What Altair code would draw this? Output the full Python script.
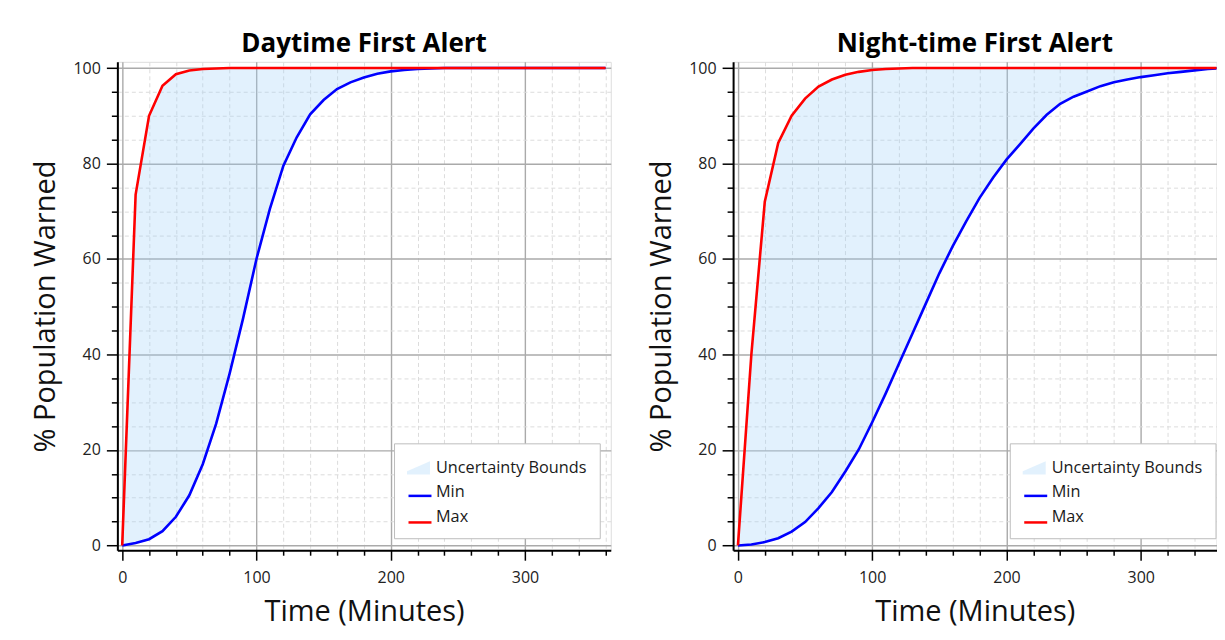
import altair as alt
import pandas as pd

# ---- data ----
t_values = list(range(0, 361, 10))

day_min = [0, 0.5, 1.3, 3.0, 6.0, 10.5, 17.0, 25.5, 36.0, 47.5, 60.0, 70.5,
           79.5, 85.5, 90.3, 93.3, 95.6, 97.0, 98.0, 98.8, 99.3, 99.6, 99.8,
           99.9, 100, 100, 100, 100, 100, 100, 100, 100, 100, 100, 100, 100, 100]
day_max = [0, 73.5, 90.0, 96.3, 98.7, 99.5, 99.8, 99.9, 100, 100, 100, 100,
           100, 100, 100, 100, 100, 100, 100, 100, 100, 100, 100, 100, 100,
           100, 100, 100, 100, 100, 100, 100, 100, 100, 100, 100, 100]

night_min = [0, 0.2, 0.7, 1.5, 2.9, 4.9, 7.8, 11.2, 15.5, 20.1, 25.8, 31.8,
             38.1, 44.4, 50.7, 57.0, 62.7, 67.9, 72.8, 77.0, 80.8, 84.0, 87.3,
             90.2, 92.5, 94.0, 95.1, 96.2, 97.0, 97.6, 98.1, 98.5, 98.9, 99.2,
             99.5, 99.8, 100]
night_max = [0, 40.0, 72.0, 84.3, 90.0, 93.6, 96.1, 97.6, 98.6, 99.2, 99.6,
             99.8, 99.9, 100, 100, 100, 100, 100, 100, 100, 100, 100, 100, 100,
             100, 100, 100, 100, 100, 100, 100, 100, 100, 100, 100, 100, 100]

y_ticks = list(range(0, 101, 5))
x_ticks = list(range(0, 361, 20))
series_names = ["Uncertainty Bounds", "Min", "Max"]
line_keys = ["band", "min", "max"]          # keys of the (label-less) line legend
fill_colors = ["#9fcff8", "transparent", "transparent"]
stroke_colors = ["transparent", "#0000ff", "#ff0000"]
panel_titles = ["Daytime First Alert", "Night-time First Alert"]
x_title = "Time (Minutes)"
y_title = "% Population Warned"

FONT = "Open Sans"
PH = 489
PX_PER_MIN = 1.3443
X_MIN = -3.6
AREA_OPACITY = 0.3


def cond(test, a, b):
    return {"condition": {"test": test, "value": a}, "value": b}


def x_axis(ticks):
    return alt.Axis(
        values=ticks,
        labelExpr="datum.value % 100 === 0 ? datum.label : ''",
        grid=True,
        gridDash=cond("datum.value % 100 === 0", [], [4, 3]),
        gridColor=cond("datum.value % 100 === 0", "#aaaaaa", "#dcdcdc"),
        gridWidth=cond("datum.value % 100 === 0", 1.4, 1),
        tickSize=cond("datum.value % 100 === 0", 10, 5),
        tickColor="black", tickWidth=1.5,
        domainColor="black", domainWidth=2,
        labelFont=FONT, labelFontSize=16, labelColor="#222", labelPadding=9,
        labelFlush=False,
        titleFont=FONT, titleFontSize=29, titleFontWeight="normal",
        titleColor="#111", titlePadding=12,
    )


y_axis = alt.Axis(
    values=y_ticks,
    labelExpr="datum.value % 20 === 0 ? datum.label : ''",
    grid=True,
    gridDash=cond("datum.value % 20 === 0", [], [4, 3]),
    gridColor=cond("datum.value % 20 === 0", "#aaaaaa", "#dcdcdc"),
    gridWidth=cond("datum.value % 20 === 0", 1.4, 1),
    tickSize=cond("datum.value % 20 === 0", 11, 6),
    tickColor="black", tickWidth=1.5,
    domainColor="black", domainWidth=2,
    labelFont=FONT, labelFontSize=16, labelColor="#222", labelPadding=6,
    labelFlush=False,
    titleFont=FONT, titleFontSize=29, titleFontWeight="normal",
    titleColor="#111", titlePadding=12,
)

legend_common = dict(
    orient="none", legendX=277, legendY=382, title=None, direction="vertical",
    symbolSize=529, labelFont=FONT, labelFontSize=16.3, labelOffset=6,
    padding=13, rowPadding=4.6,
)
# area legend: draws the box, the labels and the area swatch
legend_fill = alt.Legend(
    **legend_common,
    symbolType="M-1,0.58L-1,0.29L1,-0.58L1,0.58Z",
    symbolStrokeWidth=0, symbolOpacity=AREA_OPACITY,
    labelColor="#1a1a1a", strokeColor="#bdbdbd", fillColor="white", zindex=0,
)
# line legend: same layout, only the line swatches (no label text)
legend_stroke = alt.Legend(
    **legend_common,
    symbolType="stroke", symbolStrokeWidth=2.5, symbolOpacity=1,
    labelExpr="''", labelOpacity=0, zindex=1,
)
fill_scale = alt.Scale(domain=series_names, range=fill_colors)
stroke_scale = alt.Scale(domain=line_keys, range=stroke_colors)


def panel(title, mins, maxs, width):
    x_max = X_MIN + width / PX_PER_MIN
    ticks = [v for v in x_ticks if v <= x_max]
    df = pd.DataFrame({"t": t_values, "lo": mins, "hi": maxs})
    base = alt.Chart(df)
    x = alt.X("t:Q", scale=alt.Scale(domain=[X_MIN, x_max], nice=False, zero=False),
              axis=x_axis(ticks), title=x_title)
    ys = alt.Scale(domain=[-1, 101.3], nice=False, zero=False)
    area = base.mark_area(opacity=AREA_OPACITY, clip=True).transform_calculate(
        band="'%s'" % series_names[0]).encode(
        x=x,
        y=alt.Y("lo:Q", scale=ys, axis=y_axis, title=y_title),
        y2="hi:Q",
        fill=alt.Fill("band:N", scale=fill_scale, legend=legend_fill),
    )
    lmin = base.mark_line(strokeWidth=2.6, clip=True).transform_calculate(
        line="'%s'" % line_keys[1]).encode(
        x=x, y=alt.Y("lo:Q", scale=ys, axis=y_axis, title=y_title),
        stroke=alt.Stroke("line:N", scale=stroke_scale, legend=legend_stroke),
    )
    lmax = base.mark_line(strokeWidth=2.6, clip=True).transform_calculate(
        line="'%s'" % line_keys[2]).encode(
        x=x, y=alt.Y("hi:Q", scale=ys, axis=y_axis, title=y_title),
        stroke=alt.Stroke("line:N", scale=stroke_scale, legend=legend_stroke),
    )
    return alt.layer(area, lmin, lmax).properties(
        width=width, height=PH,
        title=alt.TitleParams(title, font=FONT, fontSize=26, fontWeight="bold",
                              color="black", anchor="middle", frame="group", offset=3),
    )


chart = alt.hconcat(
    panel(panel_titles[0], day_min, day_max, 494),
    panel(panel_titles[1], night_min, night_max, 484),
    spacing=35.5,
).resolve_scale(fill="independent", stroke="independent").properties(
    padding={"left": 23.5, "top": 21.5, "right": 0, "bottom": 0}
).configure_view(stroke="black", strokeWidth=1.5).configure(background="white")

chart.save("out.html", embed_options={"renderer": "svg", "actions": False})
